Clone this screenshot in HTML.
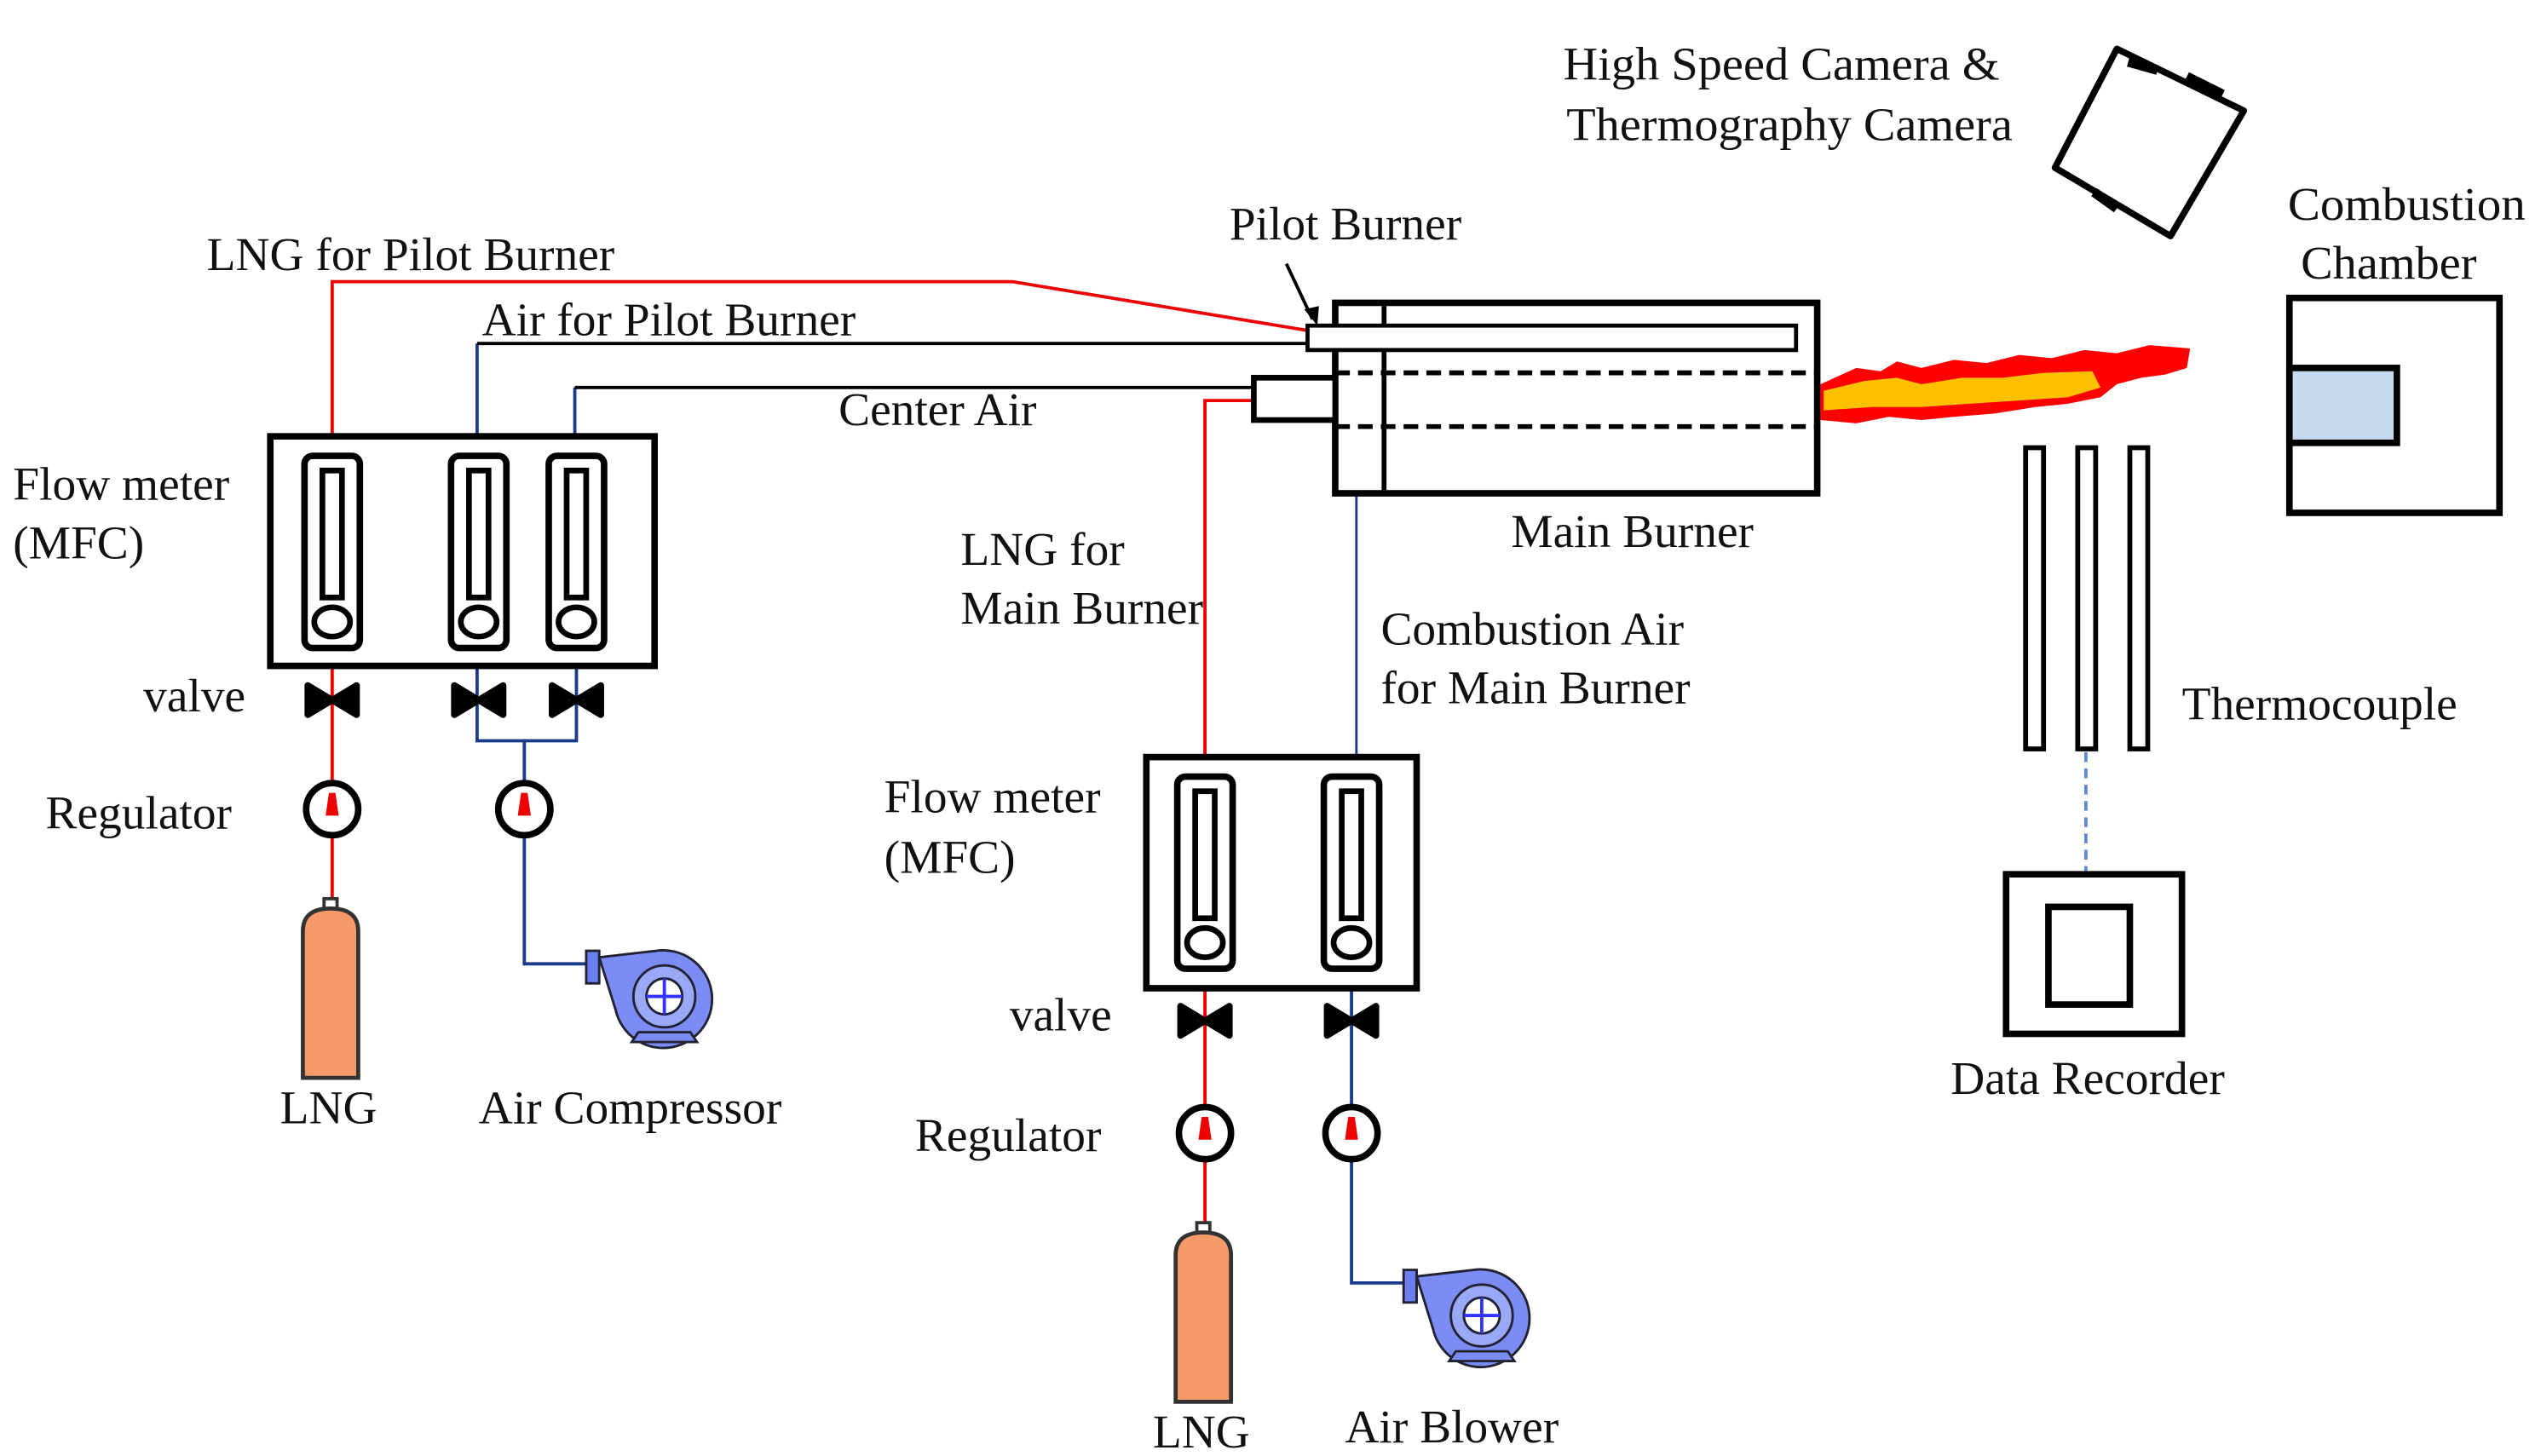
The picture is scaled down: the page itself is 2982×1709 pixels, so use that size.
<!DOCTYPE html>
<html><head><meta charset="utf-8"><style>
html,body{margin:0;padding:0;background:#fff;}
svg{display:block}
text{font-family:"Liberation Serif",serif;font-size:29px;fill:#111}
</style></head><body>
<svg width="2982" height="1709" viewBox="0 0 1560.5 894.3" preserveAspectRatio="none" xmlns="http://www.w3.org/2000/svg">
<defs>
<g id="tube">
<rect x="-17" y="0" width="34" height="118" rx="5" fill="#fff" stroke="#000" stroke-width="4"/>
<rect x="-6" y="9" width="12" height="78" fill="#fff" stroke="#000" stroke-width="3.5"/>
<ellipse cx="0" cy="102" rx="11" ry="9" fill="#fff" stroke="#000" stroke-width="3.5"/>
</g>
<g id="valve">
<path d="M-15,-9 L15,9 L15,-9 L-15,9 Z" fill="none" stroke="#000" stroke-width="4" stroke-linejoin="round"/>
<path d="M-15,-9 L-4,0 L-15,9Z M15,-9 L4,0 L15,9Z" fill="#000"/>
</g>
<g id="reg">
<circle cx="0" cy="0" r="16" fill="#fff" stroke="#000" stroke-width="4"/>
<path d="M-2,-10 L2,-10 L4,4 L-4,4Z" fill="#e00"/>
</g>
<g id="cyl">
<rect x="-4" y="-6" width="8" height="6" fill="#fff" stroke="#333" stroke-width="2"/>
<path d="M-17,104 L-17,14 Q-17,0 0,0 Q17,0 17,14 L17,104 Z" fill="#f79a6a" stroke="#333" stroke-width="2.5"/>
</g>
<g id="pump">
<rect x="-48" y="-28" width="8" height="20" fill="#6b7ff0" stroke="#223" stroke-width="1.5"/>
<path d="M-40,-24 L-5,-28 A30,30 0 1 1 -30,8 Z" fill="#7b8cf5" stroke="#223" stroke-width="1.5"/>
<circle cx="0" cy="0" r="19" fill="#9aa8f8" stroke="#223" stroke-width="1.5"/>
<circle cx="0" cy="0" r="11" fill="#fff" stroke="#223" stroke-width="1.5"/>
<path d="M-11,0 H11 M0,-11 V11" stroke="#33f" stroke-width="2"/>
<path d="M-20,28 L20,28 L16,22 L-16,22Z" fill="#7b8cf5" stroke="#223" stroke-width="1.5"/>
</g>
</defs>

<polyline points="204,268 204,173 622,173 803,203" fill="none" stroke="#e00" stroke-width="2"/>
<polyline points="293,268 293,211" fill="none" stroke="#1a3a8a" stroke-width="2"/>
<polyline points="293,211 803,211" fill="none" stroke="#000" stroke-width="2"/>
<polyline points="353,268 353,238" fill="none" stroke="#1a3a8a" stroke-width="2"/>
<polyline points="353,238 770,238" fill="none" stroke="#000" stroke-width="2"/>
<polyline points="204,409 204,558" fill="none" stroke="#e00" stroke-width="2"/>
<polyline points="293,409 293,455 354,455 354,409" fill="none" stroke="#1a3a8a" stroke-width="2"/>
<polyline points="322,455 322,592 360,592" fill="none" stroke="#1a3a8a" stroke-width="2"/>
<polyline points="770,246 740,246 740,465" fill="none" stroke="#e00" stroke-width="2"/>
<polyline points="740,607 740,757" fill="none" stroke="#e00" stroke-width="2"/>
<polyline points="833,303 833,465" fill="none" stroke="#1a3a8a" stroke-width="1.5"/>
<polyline points="830,607 830,788 865,788" fill="none" stroke="#1a3a8a" stroke-width="2"/>

<rect x="166" y="268" width="236" height="141" fill="#fff" stroke="#000" stroke-width="4"/>
<use href="#tube" x="204" y="280"/><use href="#tube" x="294" y="280"/><use href="#tube" x="354" y="280"/>
<use href="#valve" x="204" y="430"/><use href="#valve" x="294" y="430"/><use href="#valve" x="354" y="430"/>
<use href="#reg" x="204" y="497"/><use href="#reg" x="322" y="497"/>
<use href="#cyl" x="203" y="558"/>
<use href="#pump" x="408" y="612"/>

<rect x="704" y="465" width="166" height="142" fill="#fff" stroke="#000" stroke-width="4"/>
<use href="#tube" x="740" y="477"/><use href="#tube" x="830" y="477"/>
<use href="#valve" x="740" y="627"/><use href="#valve" x="830" y="627"/>
<use href="#reg" x="740" y="696"/><use href="#reg" x="830" y="696"/>
<use href="#cyl" x="739" y="757"/>
<use href="#pump" x="910" y="808"/>

<rect x="820" y="186" width="296" height="117" fill="#fff" stroke="#000" stroke-width="4"/>
<line x1="850" y1="188" x2="850" y2="301" stroke="#000" stroke-width="3"/>
<line x1="820" y1="229" x2="1116" y2="229" stroke="#000" stroke-width="3" stroke-dasharray="9,5"/>
<line x1="820" y1="262" x2="1116" y2="262" stroke="#000" stroke-width="3" stroke-dasharray="9,5"/>
<rect x="770" y="232" width="50" height="26" fill="#fff" stroke="#000" stroke-width="3.5"/>
<rect x="803" y="200" width="300" height="15" fill="#fff" stroke="#000" stroke-width="2.5"/>
<line x1="790" y1="162" x2="806" y2="196" stroke="#000" stroke-width="2"/>
<path d="M809,200 L801,190 L810,188Z" fill="#000"/>

<path d="M1118,236 L1140,226 L1155,228 L1165,222 L1180,226 L1200,221 L1220,223 L1240,218 L1260,220 L1280,215 L1300,217 L1320,212 L1345,214 L1343,226 L1330,230 L1315,232 L1300,236 L1290,244 L1270,248 L1250,250 L1225,254 L1200,256 L1180,258 L1160,256 L1140,260 L1118,258Z" fill="#f00"/>
<path d="M1120,240 L1145,234 L1165,232 L1180,236 L1205,232 L1230,232 L1255,229 L1285,228 L1290,238 L1270,244 L1240,246 L1210,248 L1180,250 L1150,250 L1120,252Z" fill="#ffc000"/>

<path d="M1300,30 L1378,68 L1333,145 L1262,103Z" fill="#fff" stroke="#000" stroke-width="4" stroke-linejoin="round"/>
<path d="M1307,38 L1325,43 M1343,47 L1365,58 M1286,118 L1300,128" stroke="#000" stroke-width="6"/>

<rect x="1406" y="183" width="129" height="132" fill="#fff" stroke="#000" stroke-width="4"/>
<rect x="1406" y="226" width="66" height="46" fill="#c5d9f1" stroke="#000" stroke-width="4"/>

<rect x="1244" y="275" width="11" height="185" fill="#fff" stroke="#000" stroke-width="3"/>
<rect x="1276" y="275" width="11" height="185" fill="#fff" stroke="#000" stroke-width="3"/>
<rect x="1308" y="275" width="11" height="185" fill="#fff" stroke="#000" stroke-width="3"/>
<line x1="1281" y1="462" x2="1281" y2="535" stroke="#5b8bd0" stroke-width="2" stroke-dasharray="6,4"/>

<rect x="1232" y="537" width="108" height="98" fill="#fff" stroke="#000" stroke-width="4"/>
<rect x="1258" y="557" width="50" height="60" fill="#fff" stroke="#000" stroke-width="4"/>

<text x="127" y="166">LNG  for Pilot Burner</text>
<text x="296" y="206">Air for Pilot Burner</text>
<text x="515" y="261">Center Air</text>
<text x="8" y="307">Flow meter</text>
<text x="8" y="343">(MFC)</text>
<text x="88" y="437">valve</text>
<text x="28" y="509">Regulator</text>
<text x="172" y="690">LNG</text>
<text x="294" y="690">Air Compressor</text>
<text x="590" y="347">LNG  for</text>
<text x="590" y="383">Main Burner</text>
<text x="848" y="396">Combustion Air</text>
<text x="848" y="432">for Main Burner</text>
<text x="543" y="499">Flow meter</text>
<text x="543" y="536">(MFC)</text>
<text x="620" y="633">valve</text>
<text x="562" y="707">Regulator</text>
<text x="708" y="889">LNG</text>
<text x="826" y="886">Air Blower</text>
<text x="755" y="147">Pilot Burner</text>
<text x="928" y="336">Main Burner</text>
<text x="960" y="49" textLength="268" lengthAdjust="spacingAndGlyphs">High  Speed Camera &amp;</text>
<text x="962" y="86" textLength="274" lengthAdjust="spacingAndGlyphs">Thermography Camera</text>
<text x="1405" y="135" textLength="146" lengthAdjust="spacingAndGlyphs">Combustion</text>
<text x="1413" y="171" textLength="108" lengthAdjust="spacingAndGlyphs">Chamber</text>
<text x="1340" y="442">Thermocouple</text>
<text x="1198" y="672">Data Recorder</text>
</svg>
</body></html>
